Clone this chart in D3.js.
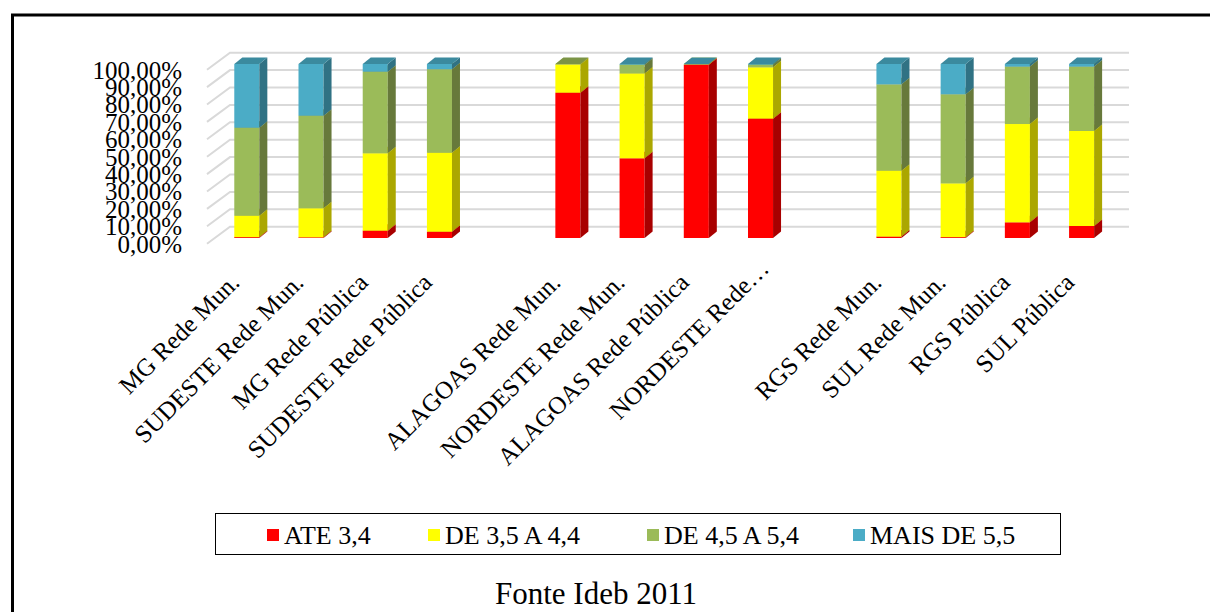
<!DOCTYPE html>
<html><head><meta charset="utf-8">
<script src="https://cdn.jsdelivr.net/npm/d3@7"></script>
<style>
html,body{margin:0;padding:0;background:#fff;}
svg{display:block;}
text{font-family:"Liberation Serif","Times New Roman",serif;fill:#000;}
</style></head>
<body>
<svg id="c" width="1210" height="612"></svg>
<script>
// ---- data ----
const categories = ["MG Rede Mun.","SUDESTE Rede Mun.","MG Rede Pública","SUDESTE Rede Pública","",
  "ALAGOAS Rede Mun.","NORDESTE Rede Mun.","ALAGOAS Rede Pública","NORDESTE Rede…","",
  "RGS Rede Mun.","SUL Rede Mun.","RGS Pública","SUL Pública"];
const seriesNames = ["ATE 3,4","DE 3,5 A 4,4","DE 4,5 A 5,4","MAIS DE 5,5"];
const ate34   = [0.5, 0.4, 4.2, 3.6, null, 83.5, 45.8, 99.6, 68.6, null, 0.8, 0.5, 9.0, 6.9];
const de35a44 = [12.3,16.7,44.5,45.4, null, 16.2, 48.8, 0.2, 29.5, null, 37.9,30.9,56.5,54.6];
const de45a54 = [50.6,53.2,46.9,48.0, null, 0.3, 5.0, 0.0, 1.5, null, 49.6,51.2,33.0,37.0];
const mais55  = [36.6,29.7,4.4, 3.0, null, 0.0, 0.4, 0.2, 0.4, null, 11.7,17.4,1.5,1.5];
const yTicks = [0,10,20,30,40,50,60,70,80,90,100];
const footer = "Fonte Ideb 2011";

const frontColors = ["#ff0000","#ffff00","#9bbb59","#4bacc6"];
const sideColors  = ["#a80000","#aba700","#67793b","#307284"];
const topColors   = ["#cc0000","#d0cc00","#7b9446","#3b8a9e"];

const svg = d3.select("#c");

// outer frame
svg.append("path").attr("d","M12.5,612 L12.5,15 L1212,15")
  .attr("fill","none").attr("stroke","#000").attr("stroke-width",3);

// scales
const idx = d3.range(categories.length);
const x = d3.scaleBand().domain(idx).range([207,1106]).paddingInner(0.61).paddingOuter(0.305);
const yBar = d3.scaleLinear().domain([0,100]).range([238,64]);
const backDX = 15.3, backDY = -11.3, frontDX = -7.7, frontDY = 5.7, barDX = 7.7;
const yBack = v => yBar(v) + backDY;
const wallX0 = 207 + barDX + backDX;
const wallX1 = 1106 + barDX + backDX;

// gridlines (back wall + left wall)
const grid = svg.append("g").attr("stroke","#d9d9d9").attr("stroke-width",2).attr("fill","none");
grid.selectAll("path").data(yTicks).join("path")
  .attr("d", v => `M${wallX0 + frontDX - backDX},${yBack(v) - backDY + frontDY} L${wallX0},${yBack(v)} L${wallX1},${yBack(v)}`);

// y axis labels
const fmt = d3.formatLocale({decimal:",",thousands:".",grouping:[3],currency:["",""]}).format(".2f");
const yAxis = svg.append("g").attr("transform","translate(182,0)")
  .call(d3.axisLeft(yBar).tickValues(yTicks).tickSize(0).tickPadding(0).tickFormat(v => fmt(v) + "%"));
yAxis.select(".domain").remove();
yAxis.selectAll("text").attr("dy","14px").attr("x",0).style("font-size","25px")
  .style("font-family","'Liberation Serif','Times New Roman',serif").attr("fill","#000");

// stacked data
const table = idx.map(i => ({i, s0: ate34[i]||0, s1: de35a44[i]||0, s2: de45a54[i]||0, s3: mais55[i]||0}));
const stack = d3.stack().keys(["s0","s1","s2","s3"])(table);

const bw = x.bandwidth();
const dX = 8, dY = -6.5;
const bars = svg.append("g");
idx.forEach(i => {
  if (ate34[i] === null) return;
  const g = bars.append("g");
  stack.forEach((layer, k) => {
    const [v0, v1] = layer[i];
    if (v1 - v0 <= 0) return;
    const xl = x(i) + barDX, xr = xl + bw;
    const yb = yBar(v0), yt = yBar(v1);
    g.append("rect").attr("x", xl).attr("y", yt).attr("width", bw).attr("height", yb - yt)
      .attr("fill", frontColors[k]);
    g.append("path").attr("d", `M${xr},${yb} L${xr+dX},${yb+dY} L${xr+dX},${yt+dY} L${xr},${yt} Z`)
      .attr("fill", sideColors[k]);
    g.append("path").attr("d", `M${xl},${yt} L${xl+dX},${yt+dY} L${xr+dX},${yt+dY} L${xr},${yt} Z`)
      .attr("fill", topColors[k]);
  });
});

// x axis labels
const xAxis = svg.append("g").attr("transform",`translate(${barDX},0)`)
  .call(d3.axisBottom(x).tickSize(0).tickFormat(i => categories[i]));
xAxis.select(".domain").remove();
xAxis.selectAll("text")
  .attr("y",0).attr("dy",0).attr("x",0)
  .attr("text-anchor","end")
  .attr("transform", i => categories[i].endsWith("…") ? "translate(10,270) rotate(-45)" : "translate(-6,284) rotate(-45)")
  .style("font-size","25px")
  .style("font-family","'Liberation Serif','Times New Roman',serif").attr("fill","#000");

// legend
const lg = svg.append("g");
lg.append("rect").attr("x",215.5).attr("y",513.5).attr("width",845).attr("height",41)
  .attr("fill","#fff").attr("stroke","#000").attr("stroke-width",1);
const itemX = [267, 428, 647, 853];
seriesNames.forEach((name, k) => {
  lg.append("rect").attr("x", itemX[k]).attr("y", 529).attr("width", 12).attr("height", 12).attr("fill", frontColors[k]);
  lg.append("text").attr("x", itemX[k] + 17).attr("y", 544).text(name).style("font-size","26px");
});

// footer
svg.append("text").attr("x",596).attr("y",604).attr("text-anchor","middle").text(footer).style("font-size","31px");
</script>
</body></html>
